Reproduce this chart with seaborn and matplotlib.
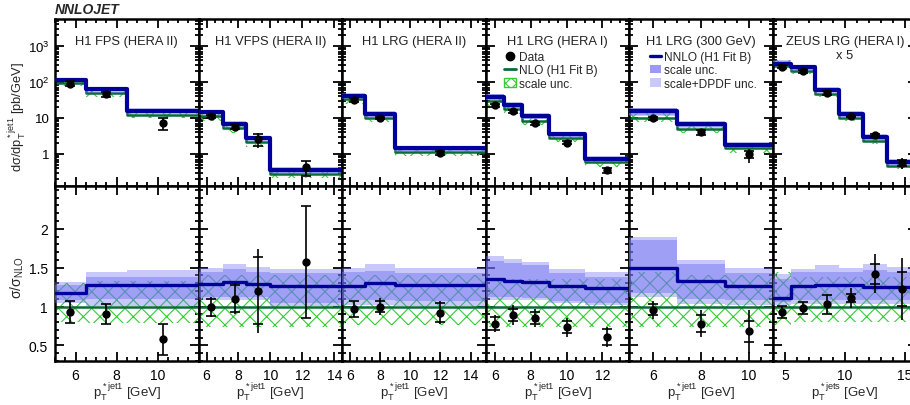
import numpy as np
import matplotlib
matplotlib.use('Agg')
import matplotlib.pyplot as plt
import seaborn as sns
from matplotlib.patches import Patch
from matplotlib.lines import Line2D
from matplotlib.ticker import MultipleLocator, FixedLocator, LogLocator, NullFormatter

# ---------------- data ----------------
titles = ["H1 FPS (HERA II)", "H1 VFPS (HERA II)", "H1 LRG (HERA II)",
          "H1 LRG (HERA I)", "H1 LRG (300 GeV)", "ZEUS LRG (HERA I)"]
xlabels = ["p$_{\\rm T}^{\\rm *jet1}$ [GeV]"] * 5 + ["p$_{\\rm T}^{\\rm *jets}$ [GeV]"]

edges = [[5, 6.5, 8.5, 12],
         [5.5, 7, 8.5, 10, 14.5],
         [5.5, 7, 9, 15],
         [5.5, 6.5, 7.5, 9, 11, 13.5],
         [5, 7, 9, 11],
         [4, 5.5, 7.5, 9.5, 11.5, 13.5, 16]]

# NLO cross sections [pb/GeV] (ZEUS scaled x5)
nlo_xsec = [[96.6, 50, 12.5],
            [11.2, 5.2, 2.15, 0.285],
            [33, 9.9, 1.15],
            [28.8, 17.3, 8.5, 2.83, 0.59],
            [10.2, 5.1, 1.43],
            [285, 202, 47.7, 10.1, 2.32, 0.47]]

# NLO scale uncertainty band (ratio to NLO)
nlo_lo = [[0.80, 0.79, 0.79],
          [0.74, 0.74, 0.74, 0.74],
          [0.76, 0.76, 0.76],
          [0.74, 0.74, 0.74, 0.74, 0.74],
          [0.74, 0.74, 0.74],
          [0.76, 0.80, 0.80, 0.80, 0.80, 0.80]]
nlo_hi = [[1.30, 1.33, 1.33],
          [1.40, 1.40, 1.40, 1.40],
          [1.41, 1.41, 1.41],
          [1.36, 1.36, 1.36, 1.36, 1.36],
          [1.45, 1.40, 1.40],
          [1.44, 1.38, 1.38, 1.38, 1.38, 1.38]]

# NNLO / NLO
nnlo_ratio = [[1.18, 1.28, 1.28],
              [1.29, 1.31, 1.29, 1.26],
              [1.26, 1.30, 1.28],
              [1.355, 1.33, 1.31, 1.27, 1.24],
              [1.50, 1.33, 1.27],
              [1.11, 1.26, 1.28, 1.28, 1.25, 1.25]]
scale_lo = [[1.09, 1.10, 1.10],
            [1.12, 1.12, 1.12, 1.05],
            [1.08, 1.08, 1.07],
            [1.12, 1.12, 1.11, 1.07, 1.05],
            [1.18, 1.10, 1.08],
            [1.06, 1.08, 1.08, 1.08, 1.08, 1.08]]
scale_hi = [[1.28, 1.385, 1.385],
            [1.45, 1.48, 1.45, 1.43],
            [1.44, 1.46, 1.43],
            [1.59, 1.555, 1.53, 1.43, 1.38],
            [1.86, 1.55, 1.43],
            [1.35, 1.44, 1.45, 1.44, 1.47, 1.45]]
full_lo = [[1.05, 1.01, 1.01],
           [1.09, 1.08, 1.08, 1.01],
           [1.02, 1.02, 1.01],
           [1.08, 1.08, 1.08, 1.04, 1.02],
           [1.12, 1.03, 1.02],
           [1.02, 1.03, 1.03, 1.03, 1.03, 1.03]]
full_hi = [[1.31, 1.45, 1.47],
           [1.50, 1.55, 1.51, 1.48],
           [1.50, 1.55, 1.49],
           [1.65, 1.61, 1.57, 1.48, 1.45],
           [1.90, 1.60, 1.49],
           [1.42, 1.48, 1.53, 1.50, 1.55, 1.51]]

# Data / NLO with stat and total errors
data_ratio = [[0.93, 0.90, 0.58],
              [0.99, 1.10, 1.205, 1.57],
              [0.97, 1.00, 0.92],
              [0.78, 0.89, 0.855, 0.735, 0.61],
              [0.957, 0.78, 0.68],
              [0.93, 0.98, 1.03, 1.11, 1.42, 1.23]]
stat_err = [[0.145, 0.13, 0.20],
            [0.11, 0.175, 0.43, 0.72],
            [0.10, 0.07, 0.12],
            [0.08, 0.08, 0.08, 0.08, 0.10],
            [0.07, 0.11, 0.14],
            [0.08, 0.08, 0.12, 0.05, 0.13, 0.22]]
tot_err = [[0.145, 0.13, 0.20],
           [0.13, 0.20, 0.54, 0.72],
           [0.10, 0.11, 0.15],
           [0.11, 0.13, 0.12, 0.12, 0.13],
           [0.12, 0.17, 0.28],
           [0.08, 0.08, 0.12, 0.13, 0.25, 0.40]]

xlims = [(5, 12), (5.5, 14.5), (5.5, 15), (5.5, 13.5), (5, 11), (4, 16)]
xmajor = [[6, 8, 10], [6, 8, 10, 12, 14], [6, 8, 10, 12, 14], [6, 8, 10, 12], [6, 8, 10], [5, 10, 15]]
xminor = [0.5, 0.5, 0.5, 0.5, 0.5, 1.0]

# ---------------- style ----------------
sns.set_style('ticks')
plt.rcParams['font.family'] = ['Liberation Sans', 'DejaVu Sans']
plt.rcParams['mathtext.fontset'] = 'custom'
plt.rcParams['mathtext.rm'] = 'Liberation Sans'
plt.rcParams['mathtext.it'] = 'Liberation Sans:italic'
plt.rcParams['mathtext.bf'] = 'Liberation Sans:bold'
plt.rcParams['hatch.linewidth'] = 0.8

NNLO_C = '#00009a'
NLO_C = '#0a6b3a'
HATCH_C = '#33cc33'
BAND_C = '#6f6ff2'
plt.rcParams['hatch.color'] = HATCH_C

W, H = 910, 406
fig = plt.figure(figsize=(W / 100, H / 100), dpi=100)
left0, pw = 55, 143.6
ty0, ty1 = 20, 187
by0, by1 = 187, 362


def ext(a):
    a = np.asarray(a, dtype=float)
    return np.append(a, a[-1])


def style_axes(ax, i):
    ax.set_xlim(*xlims[i])
    ax.xaxis.set_major_locator(FixedLocator(xmajor[i]))
    ax.xaxis.set_minor_locator(MultipleLocator(xminor[i]))
    ax.tick_params(which='both', direction='in', top=True, right=True,
                   width=1.3, colors='k', labelsize=10)
    ax.tick_params(which='major', length=6.5)
    ax.tick_params(which='minor', length=3.2)
    for s in ax.spines.values():
        s.set_linewidth(1.8)
        s.set_color('k')
        s.set_visible(True)
    ax.set_xlabel('')
    ax.set_ylabel('')


for i in range(6):
    l = (left0 + i * pw) / W
    axt = fig.add_axes([l, (H - ty1) / H, pw / W, (ty1 - ty0) / H])
    axb = fig.add_axes([l, (H - by1) / H, pw / W, (by1 - by0) / H])

    e = np.array(edges[i], dtype=float)
    mid = 0.5 * (e[:-1] + e[1:])
    nlo = np.array(nlo_xsec[i])
    nn = np.array(nnlo_ratio[i])
    dr = np.array(data_ratio[i])
    st = np.array(stat_err[i])
    tt = np.array(tot_err[i])

    for ax, norm in ((axt, nlo), (axb, np.ones_like(nlo))):
        if ax is axt:
            ax.set_yscale('log')
        ax.fill_between(e, ext(norm * np.array(nlo_lo[i])), ext(norm * np.array(nlo_hi[i])),
                        step='post', facecolor='none', edgecolor=HATCH_C, hatch='xx',
                        lw=0, zorder=1)
        sns.lineplot(x=e, y=ext(norm), drawstyle='steps-post', color=NLO_C,
                     lw=1.8, ax=ax, zorder=2)
        ax.fill_between(e, ext(norm * np.array(full_lo[i])), ext(norm * np.array(full_hi[i])),
                        step='post', color=BAND_C, alpha=0.38, lw=0, zorder=3)
        ax.fill_between(e, ext(norm * np.array(scale_lo[i])), ext(norm * np.array(scale_hi[i])),
                        step='post', color=BAND_C, alpha=0.45, lw=0, zorder=3)
        sns.lineplot(x=e, y=ext(norm * nn), drawstyle='steps-post', color=NNLO_C,
                     lw=3.0 if ax is axt else 2.4, ax=ax, zorder=4)
        d = norm * dr
        ax.errorbar(mid, d, yerr=norm * tt, fmt='none', ecolor='k', elinewidth=1.2,
                    capsize=0, zorder=5)
        ax.errorbar(mid, d, yerr=norm * st, fmt='none', ecolor='k', elinewidth=0,
                    capsize=3.5, capthick=1.2, zorder=5)
        sns.scatterplot(x=mid, y=d, color='k', s=36, linewidth=0, ax=ax, zorder=6)
        style_axes(ax, i)

    # top axis
    axt.set_ylim(0.129, 5623)
    axt.set_yticks([1, 10, 100, 1000])
    axt.yaxis.set_minor_locator(LogLocator(base=10, subs=np.arange(2, 10), numticks=30))
    axt.yaxis.set_minor_formatter(NullFormatter())
    axt.tick_params(labelbottom=False)
    if i == 0:
        axt.set_yticklabels(['1', '10', '10$^2$', '10$^3$'])
    else:
        axt.tick_params(labelleft=False)
    axt.tick_params(axis='y', pad=4, labelsize=9.5)

    # bottom axis
    axb.set_ylim(0.30, 2.55)
    axb.yaxis.set_major_locator(FixedLocator([0.5, 1, 1.5, 2]))
    axb.yaxis.set_minor_locator(MultipleLocator(0.1))
    if i == 0:
        axb.set_yticklabels(['0.5', '1', '1.5', '2'])
    else:
        axb.tick_params(labelleft=False)
    axb.tick_params(axis='x', pad=5)
    axb.tick_params(axis='y', pad=5)

    # titles
    axt.text(0.5, 0.868, titles[i], transform=axt.transAxes, ha='center', va='center',
             fontsize=9.3, color='#222222')
    if i == 5:
        axt.text(0.5, 0.784, 'x 5', transform=axt.transAxes, ha='center', va='center',
                 fontsize=9.3, color='#222222')

    fig.text((left0 + (i + 0.5) * pw) / W, (H - 392) / H, xlabels[i],
             ha='center', va='center', fontsize=9.5)

    if i == 3:
        handles = [Line2D([], [], ls='none', marker='o', color='k', markersize=6),
                   Line2D([], [], color=NLO_C, lw=2),
                   Patch(facecolor='white', edgecolor=HATCH_C, hatch='xxx', lw=1)]
        axt.legend(handles, ['Data', 'NLO (H1 Fit B)', 'scale unc.'], loc='upper left',
                   bbox_to_anchor=(0.13, 0.81), frameon=False, fontsize=8.6,
                   handlelength=1.0, handletextpad=0.2, labelspacing=0.12,
                   borderpad=0, borderaxespad=0)
    if i == 4:
        handles = [Line2D([], [], color=NNLO_C, lw=2.4),
                   Patch(facecolor='#9a9af5', edgecolor='none'),
                   Patch(facecolor='#c8c8fa', edgecolor='none')]
        axt.legend(handles, ['NNLO (H1 Fit B)', 'scale unc.', 'scale+DPDF unc.'],
                   loc='upper left', bbox_to_anchor=(0.14, 0.81), frameon=False,
                   fontsize=8.6, handlelength=1.0, handletextpad=0.2,
                   labelspacing=0.12, borderpad=0, borderaxespad=0)

fig.text(55 / W, (H - 10) / H, 'NNLOJET', fontsize=10, fontweight='bold',
         fontstyle='italic', ha='left', va='center')
fig.text(17 / W, (H - 117) / H, 'dσ/dp$_{\\rm T}^{\\rm *jet1}$ [pb/GeV]', rotation=90,
         ha='center', va='center', fontsize=9.3)
fig.text(17 / W, (H - 278) / H, 'σ/σ$_{\\rm NLO}$', rotation=90,
         ha='center', va='center', fontsize=10)

fig.savefig('out.png', dpi=100)
